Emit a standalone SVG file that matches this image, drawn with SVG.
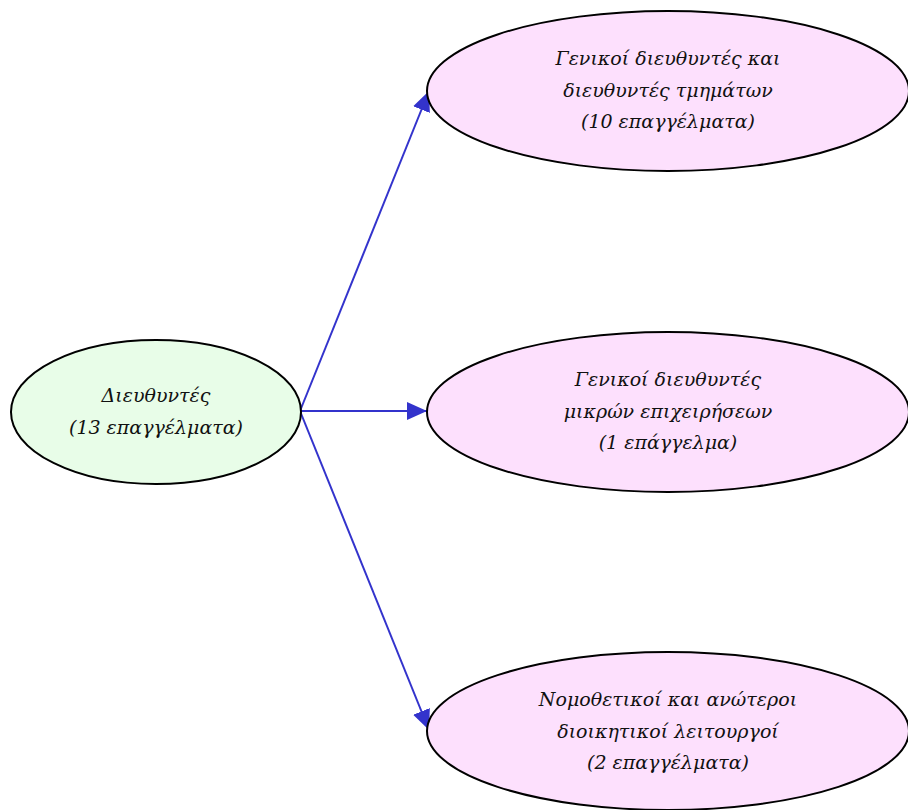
<svg xmlns="http://www.w3.org/2000/svg" width="908" height="810" viewBox="0 0 908 810">
<defs>
<style>
.root{fill:#e8fde8;stroke:#000;stroke-width:2}
.leaf{fill:#fde0fd;stroke:#000;stroke-width:2}
.lbl{font-family:"DejaVu Serif","Liberation Serif",serif;font-style:italic;font-size:19px;fill:#111;text-anchor:middle}
.edge{stroke:#3333cc;stroke-width:2;fill:none}
</style>
<marker id="arr" viewBox="0 0 20 18" refX="20" refY="9" markerWidth="20" markerHeight="18" markerUnits="userSpaceOnUse" orient="auto">
<path d="M0,0 L20,9 L0,18 z" fill="#3333cc"/>
</marker>
</defs>
<rect width="908" height="810" fill="#fff"/>
<g id="edges">
<line class="edge" x1="300" y1="411" x2="429" y2="91" marker-end="url(#arr)"/>
<line class="edge" x1="300" y1="411" x2="427" y2="411" marker-end="url(#arr)"/>
<line class="edge" x1="300" y1="411" x2="429" y2="730" marker-end="url(#arr)"/>
</g>
<g id="node-root">
<ellipse class="root" cx="156" cy="412" rx="145" ry="72"/>
<text class="lbl" x="156" y="402">Διευθυντές</text>
<text class="lbl" x="156" y="434">(13 επαγγέλματα)</text>
</g>
<g id="node-1">
<ellipse class="leaf" cx="668" cy="91" rx="241" ry="80"/>
<text class="lbl" x="668" y="65">Γενικοί διευθυντές και</text>
<text class="lbl" x="668" y="97">διευθυντές τμημάτων</text>
<text class="lbl" x="668" y="128">(10 επαγγέλματα)</text>
</g>
<g id="node-2">
<ellipse class="leaf" cx="668" cy="412" rx="241" ry="80"/>
<text class="lbl" x="668" y="386">Γενικοί διευθυντές</text>
<text class="lbl" x="668" y="418">μικρών επιχειρήσεων</text>
<text class="lbl" x="668" y="449">(1 επάγγελμα)</text>
</g>
<g id="node-3">
<ellipse class="leaf" cx="668" cy="731" rx="241" ry="79"/>
<text class="lbl" x="668" y="706">Νομοθετικοί και ανώτεροι</text>
<text class="lbl" x="668" y="738">διοικητικοί λειτουργοί</text>
<text class="lbl" x="668" y="769">(2 επαγγέλματα)</text>
</g>
</svg>
